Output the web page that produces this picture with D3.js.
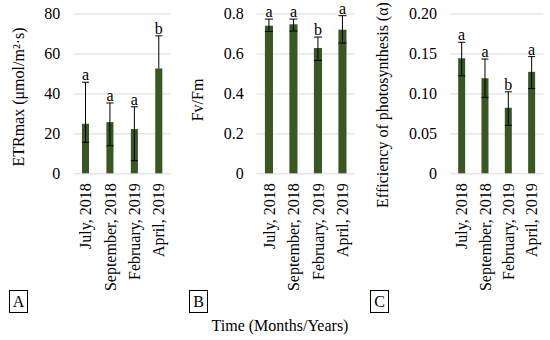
<!DOCTYPE html>
<html><head><meta charset="utf-8">
<script src="https://cdn.jsdelivr.net/npm/d3@7"></script>
<style>html,body{margin:0;padding:0;background:#fff}svg{display:block}</style>
</head><body>
<svg id="c" width="550" height="340"></svg>
<script>
const categories = ["July, 2018", "September, 2018", "February, 2019", "April, 2019"];

const etrMean = [24.8, 25.6, 22.2, 52.5];
const etrLow = [15.5, 13.8, 6.3, 52.5];
const etrHigh = [45.6, 35.2, 33.3, 68.8];
const etrLetters = ["a", "a", "a", "b"];
const etrTicks = [0, 20, 40, 60, 80];

const fvMean = [0.739, 0.746, 0.627, 0.719];
const fvLow = [0.710, 0.712, 0.565, 0.652];
const fvHigh = [0.772, 0.772, 0.682, 0.789];
const fvLetters = ["a", "a", "b", "a"];
const fvTicks = [0, 0.2, 0.4, 0.6, 0.8];
const fvTickLabels = ["0", "0.2", "0.4", "0.6", "0.8"];

const alphaMean = [0.144, 0.119, 0.082, 0.127];
const alphaLow = [0.122, 0.095, 0.060, 0.106];
const alphaHigh = [0.164, 0.143, 0.102, 0.146];
const alphaLetters = ["a", "a", "b", "a"];
const alphaTicks = [0, 0.05, 0.10, 0.15, 0.20];
const alphaTickLabels = ["0", "0.05", "0.10", "0.15", "0.20"];

const panelLabels = ["A", "B", "C"];
const xTitle = "Time (Months/Years)";

const FONT = "'Liberation Serif','Times New Roman',serif";
const BAR = "#385723";
const GRID = "#d9d9d9";

const svg = d3.select("#c");

const panels = [
  {mean: etrMean, low: etrLow, high: etrHigh, letters: etrLetters, ticks: etrTicks,
   tickLabels: etrTicks.map(String), title: "ETRmax (μmol/m²·s)",
   x0: 73.3, x1: 171, pad: 0.71, titleX: 18, titleY: 97, box: 9},
  {mean: fvMean, low: fvLow, high: fvHigh, letters: fvLetters, ticks: fvTicks,
   tickLabels: fvTickLabels, title: "Fv/Fm",
   x0: 256.7, x1: 354.7, pad: 0.67, titleX: 197, titleY: 100, box: 189},
  {mean: alphaMean, low: alphaLow, high: alphaHigh, letters: alphaLetters, ticks: alphaTicks,
   tickLabels: alphaTickLabels, title: "Efficiency of photosynthesis (α)",
   x0: 450, x1: 543.3, pad: 0.7, titleX: 382, titleY: 105, box: 370}
];

const yTop = 13.5, yBot = 173.3;

panels.forEach((p, pi) => {
  const g = svg.append("g");
  const x = d3.scaleBand().domain(categories).range([p.x0, p.x1]).paddingInner(p.pad).paddingOuter(p.pad / 2);
  const y = d3.scaleLinear().domain([0, p.ticks[p.ticks.length - 1]]).range([yBot, yTop]);

  // gridlines + tick labels via axis
  const ax = d3.axisLeft(y).tickValues(p.ticks).tickSize(-(p.x1 - p.x0))
    .tickFormat((d, i) => p.tickLabels[i]).tickPadding(13);
  const axG = g.append("g").attr("transform", `translate(${p.x0},0)`).call(ax);
  axG.select(".domain").remove();
  axG.selectAll(".tick line").attr("stroke", GRID).attr("stroke-width", 1);
  axG.selectAll(".tick text").attr("font-family", FONT).attr("font-size", 16).attr("fill", "#000");

  // bars
  g.selectAll("rect.bar").data(categories).enter().append("rect")
    .attr("x", d => x(d)).attr("width", x.bandwidth())
    .attr("y", (d, i) => y(p.mean[i])).attr("height", (d, i) => yBot - y(p.mean[i]))
    .attr("fill", BAR);

  // error bars
  const cap = x.bandwidth() / 2;
  categories.forEach((c, i) => {
    const cx = x(c) + x.bandwidth() / 2;
    g.append("line").attr("x1", cx).attr("x2", cx).attr("y1", y(p.high[i])).attr("y2", y(p.low[i]))
      .attr("stroke", "#000").attr("stroke-width", 1);
    g.append("line").attr("x1", cx - cap).attr("x2", cx + cap).attr("y1", y(p.high[i])).attr("y2", y(p.high[i]))
      .attr("stroke", "#000").attr("stroke-width", 1);
    if (p.low[i] < p.mean[i]) {
      g.append("line").attr("x1", cx - cap).attr("x2", cx + cap).attr("y1", y(p.low[i])).attr("y2", y(p.low[i]))
        .attr("stroke", "#000").attr("stroke-width", 1);
    }
    g.append("text").attr("x", cx).attr("y", y(p.high[i]) - 2)
      .attr("text-anchor", "middle").attr("font-family", FONT).attr("font-size", 16).text(p.letters[i]);
    g.append("text").attr("text-anchor", "end").attr("dy", "0.35em")
      .attr("transform", `translate(${cx},${yBot + 10}) rotate(-90)`)
      .attr("font-family", FONT).attr("font-size", 16).text(c);
  });

  // y title
  g.append("text").attr("text-anchor", "middle").attr("dy", "0.35em")
    .attr("transform", `translate(${p.titleX},${p.titleY}) rotate(-90)`)
    .attr("font-family", FONT).attr("font-size", 16).text(p.title);

  // panel letter box
  g.append("rect").attr("x", p.box + 0.5).attr("y", 290.5).attr("width", 18).attr("height", 22)
    .attr("fill", "none").attr("stroke", "#000").attr("stroke-width", 1);
  g.append("text").attr("x", p.box + 9.5).attr("y", 307).attr("text-anchor", "middle")
    .attr("font-family", FONT).attr("font-size", 16).text(panelLabels[pi]);
});

svg.append("text").attr("x", 280).attr("y", 331).attr("text-anchor", "middle")
  .attr("font-family", FONT).attr("font-size", 16).text(xTitle);
</script>
</body></html>
